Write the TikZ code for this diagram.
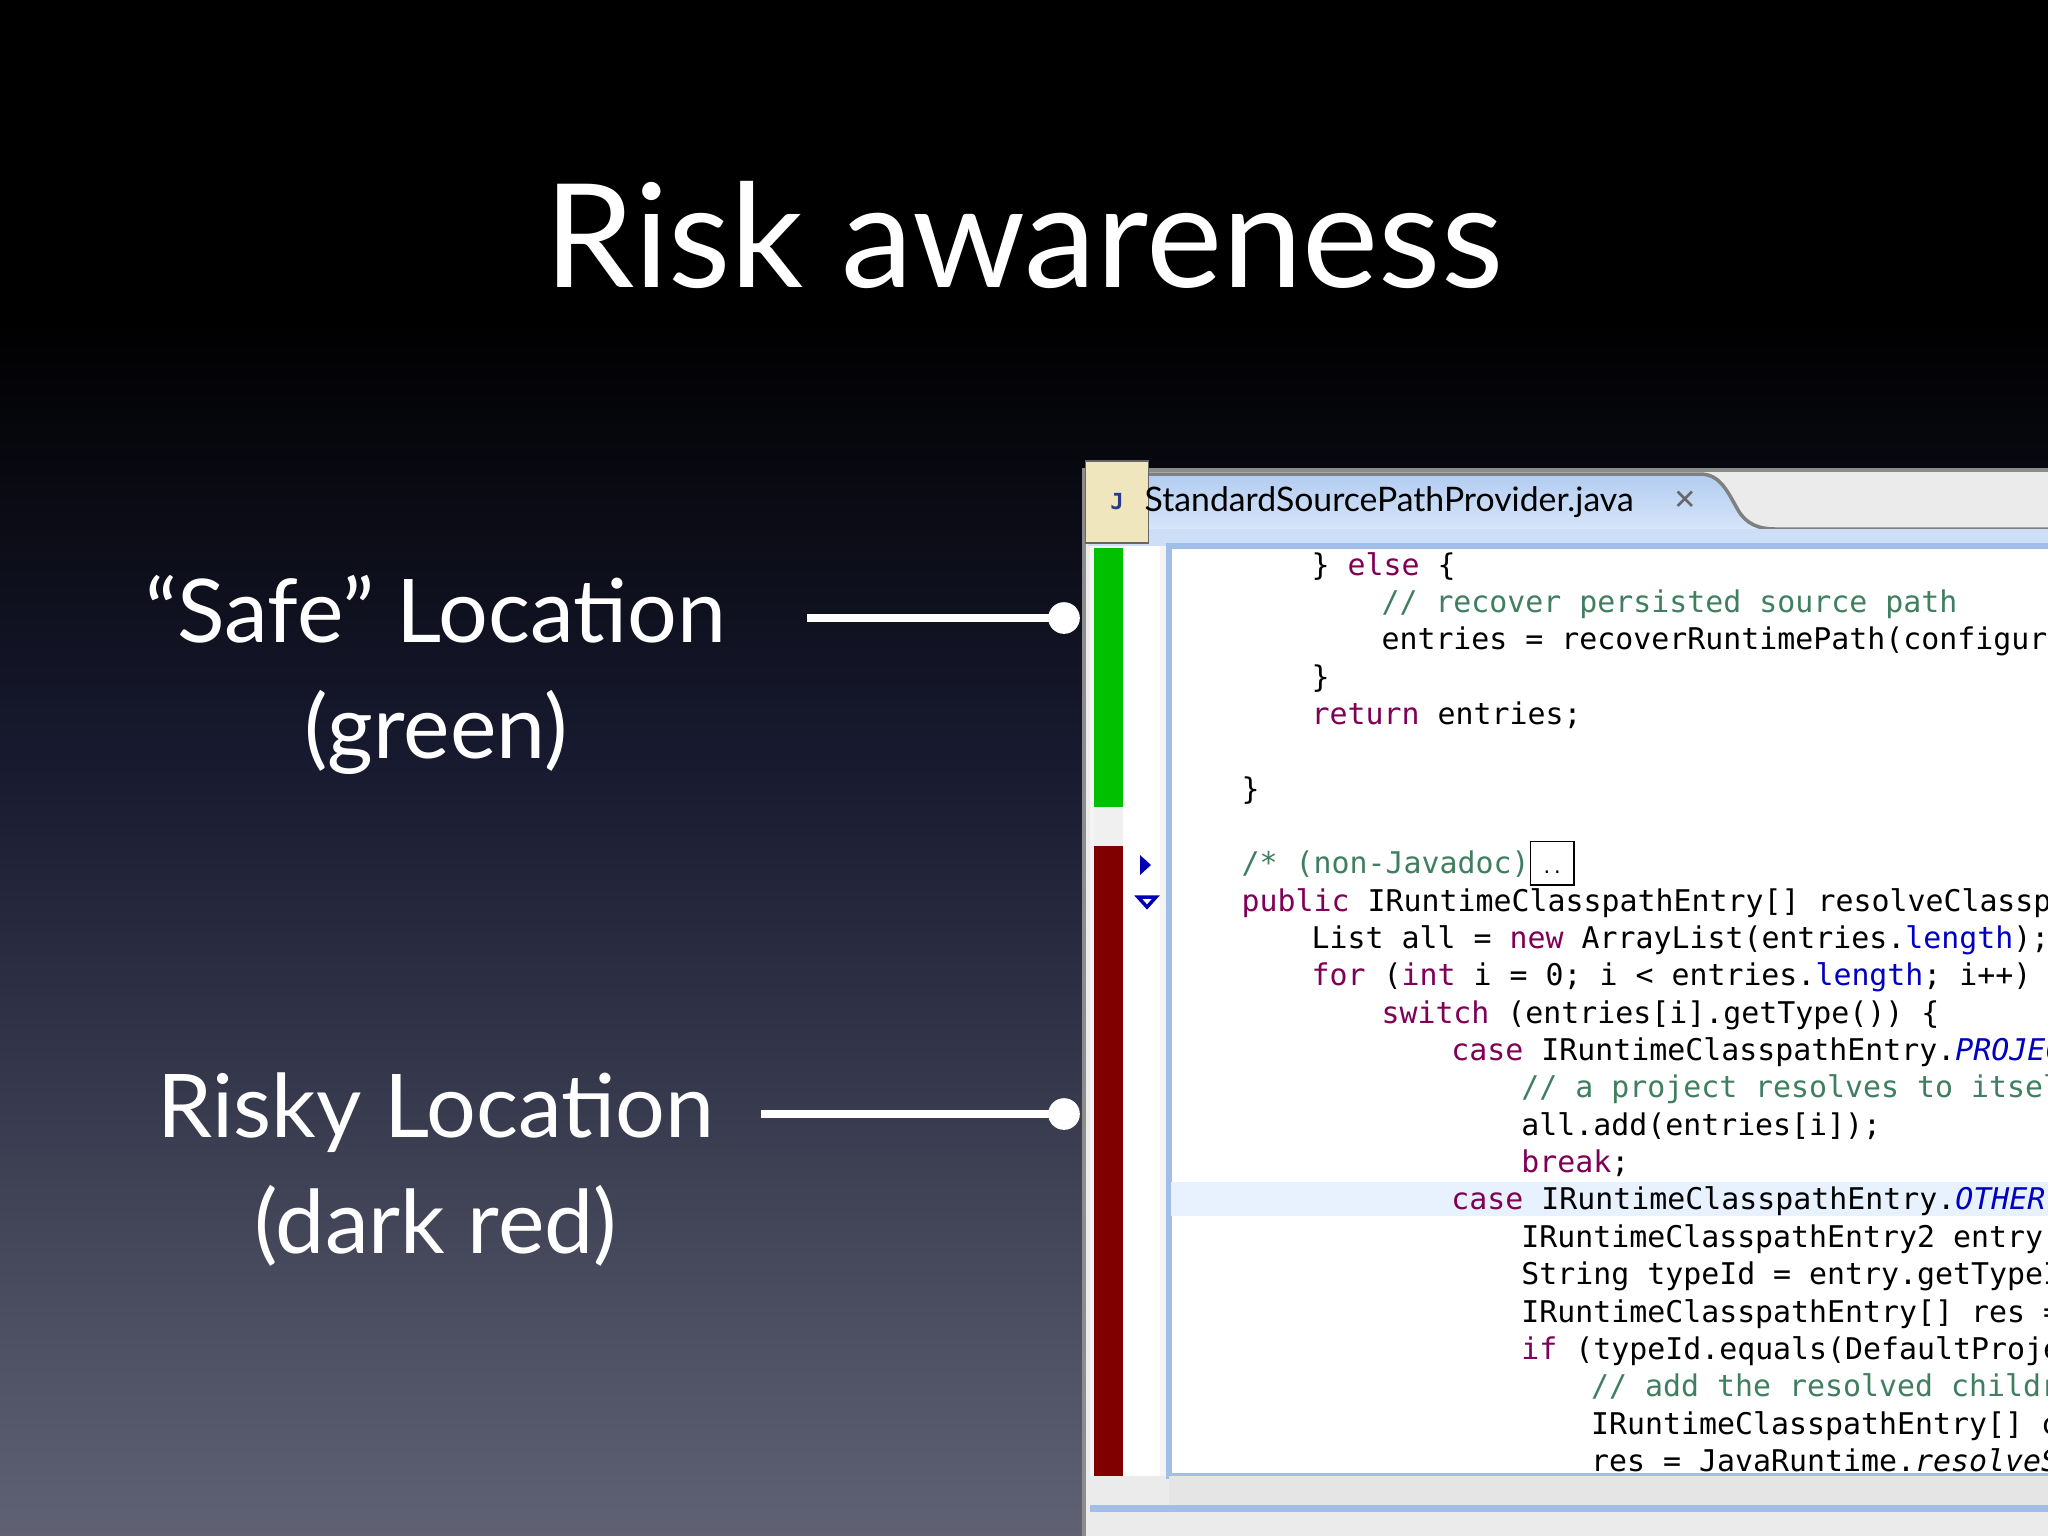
\documentclass[tikz,border=0pt]{standalone}
\usepackage{fontspec}
\setmainfont{Lato}
\setmonofont{DejaVu Sans Mono}
\definecolor{kw}{RGB}{127,0,85}
\definecolor{cm}{RGB}{63,127,95}
\definecolor{fd}{RGB}{0,0,192}
\definecolor{bgmid}{RGB}{24,26,48}
\definecolor{bgbot}{RGB}{96,98,116}
\definecolor{safegreen}{RGB}{0,192,0}
\definecolor{riskred}{RGB}{128,0,0}
\definecolor{framebl}{RGB}{160,190,232}
\definecolor{tabtop}{RGB}{178,204,240}
\definecolor{tabbot}{RGB}{214,229,250}
\definecolor{stripbl}{RGB}{205,222,246}
\definecolor{gutter}{RGB}{244,244,244}
\definecolor{hilite}{RGB}{232,242,254}
\definecolor{iconfill}{RGB}{240,230,190}
\definecolor{icontext}{RGB}{40,60,140}
\newcommand{\kwd}[1]{\textcolor{kw}{#1}}
\newcommand{\cmt}[1]{\textcolor{cm}{#1}}
\newcommand{\fld}[1]{\textcolor{fd}{#1}}
\newcommand{\fldi}[1]{\textcolor{fd}{\itshape #1}}
\tikzset{
  codeline/.style={anchor=base west, inner sep=0pt, font=\ttfamily\fontsize{8.5}{10}\selectfont, text=black},
  sidelabel/.style={align=center, text=white, font=\fontsize{25}{33}\selectfont},
  pointer/.style={white, line width=2.4pt},
  dotend/.style={circle, fill=white, inner sep=0pt, minimum size=9pt},
}
\begin{document}
\begin{tikzpicture}[x=0.01cm,y=-0.01cm]
\useasboundingbox (0,0) rectangle (2048,1536);
\fill[black] (0,0) rectangle (2048,320);
\shade[top color=black, bottom color=bgmid] (0,320) rectangle (2048,768);
\shade[top color=bgmid, bottom color=bgbot] (0,768) rectangle (2048,1536);

\node[text=white, font=\fontsize{41}{50}\selectfont] (title) at (1024,235) {Risk awareness};

% window
\fill[black!8, draw=black!45, line width=1pt] (1084,470) rectangle (2060,1545);
\shade[top color=tabtop, bottom color=tabbot]
  (1088,529) -- (1088,484) to[out=90,in=180] (1100,474) -- (1700,474) to[out=0,in=120] (1738,510) to[out=-60,in=180] (1775,529) -- cycle;
\draw[black!50, line width=1pt] (1088,529) -- (1088,484) to[out=90,in=180] (1100,474) -- (1700,474) to[out=0,in=120] (1738,510) to[out=-60,in=180] (1775,529) -- (2060,529);
\fill[stripbl] (1088,529) rectangle (2060,546);
\fill[gutter] (1090,546) rectangle (1169,1476);
\fill[white] (1123,546) rectangle (1160,1476);
\fill[white, draw=framebl, line width=1.5pt] (1169,546) rectangle (2070,1476);
\fill[black!10] (1169,1476) rectangle (2060,1505);
\fill[framebl] (1090,1505) rectangle (2060,1512);
\node[draw=black!60, fill=iconfill, minimum width=20pt, minimum height=26pt, inner sep=0pt, font=\ttfamily\bfseries\fontsize{7}{8}\selectfont, text=icontext, scale=0.9] (jicon) at (1117,502) {J};
\node[anchor=west, inner sep=0pt, font=\fontsize{9.6}{11}\selectfont] (tabname) at (1144,502) {StandardSourcePathProvider.java};
\node[inner sep=0pt, font=\fontsize{8}{9}\selectfont, text=black!60] (tabx) at (1685,500) {\fontspec{DejaVu Sans}\bfseries ✕};

% bars
\fill[safegreen] (1094,548) rectangle (1123,807);
\fill[black!6] (1094,807) rectangle (1123,846);
\fill[riskred] (1094,846) rectangle (1123,1476);
\fill[blue!70!black] (1140,855) -- (1140,875) -- (1151,865) -- cycle;
\draw[blue!70!black, line width=1pt] (1138,897) -- (1156,897) -- (1147,907) -- cycle;

% highlighted line
\fill[hilite] (1171,1182) rectangle (2048,1216);

% code
\begin{scope}
\clip (1171,548) rectangle (2048,1474);
\foreach \lv/\ln/\tx in {
 3/0/{\} \kwd{else} \{},
 4/1/{\cmt{// recover persisted source path}},
 4/2/{entries = recoverRuntimePath(configuration, ATTR\_SOURCE\_PATH);},
 3/3/{\}},
 3/4/{\kwd{return} entries;},
 2/6/{\}},
 2/8/{\cmt{/* (non-Javadoc)}\fbox{\rule{0pt}{0.7em}\tiny..}},
 2/9/{\kwd{public} IRuntimeClasspathEntry[] resolveClasspath(IRuntimeClasspathEntry[] entries) \{},
 3/10/{List all = \kwd{new} ArrayList(entries.\fld{length});},
 3/11/{\kwd{for} (\kwd{int} i = 0; i < entries.\fld{length}; i++) \{},
 4/12/{\kwd{switch} (entries[i].getType()) \{},
 5/13/{\kwd{case} IRuntimeClasspathEntry.\fldi{PROJECT}:},
 6/14/{\cmt{// a project resolves to itself}},
 6/15/{all.add(entries[i]);},
 6/16/{\kwd{break};},
 5/17/{\kwd{case} IRuntimeClasspathEntry.\fldi{OTHER}:},
 6/18/{IRuntimeClasspathEntry2 entry = (IRuntimeClasspathEntry2)entries[i];},
 6/19/{String typeId = entry.getTypeId();},
 6/20/{IRuntimeClasspathEntry[] res = \kwd{null};},
 6/21/{\kwd{if} (typeId.equals(DefaultProjectClasspathEntry.\fldi{TYPE\_ID})) \{},
 7/22/{\cmt{// add the resolved children of the project}},
 7/23/{IRuntimeClasspathEntry[] children = entries[i].getRuntimeClasspathEntries();},
 7/24/{res = JavaRuntime.\textit{resolveSourceLookupPath}(children);}
}{
  \node[codeline] (c\ln) at ({1241+(\lv-2)*69.9}, {575+37.35*\ln}) {\tx};
}
\end{scope}

% labels
\node[sidelabel] (safe) at (436,675) {“Safe” Location\\(green)};
\node[sidelabel] (risky) at (436,1170) {Risky Location\\(dark red)};
\coordinate (safeS) at (807,618);
\coordinate (riskS) at (761,1114);
\node[dotend] (safeD) at (1064,618) {};
\node[dotend] (riskD) at (1064,1114) {};
\draw[pointer] (safeS) -- (safeD.center);
\draw[pointer] (riskS) -- (riskD.center);
\end{tikzpicture}
\end{document}
